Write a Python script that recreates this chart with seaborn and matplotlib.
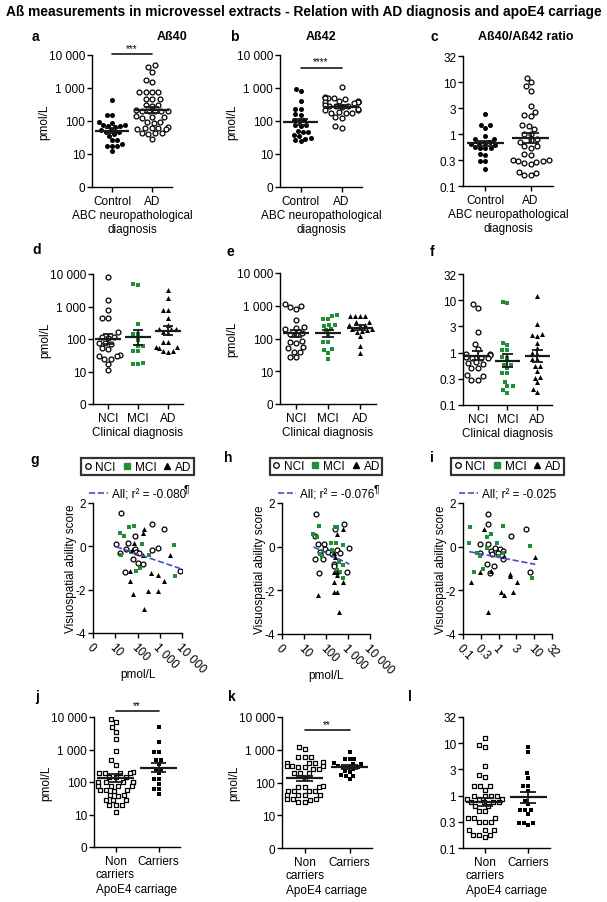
"""Abeta measurements in microvessel extracts - dot plots and correlations."""
import warnings
import numpy as np
import pandas as pd
import matplotlib
matplotlib.use('Agg')
import matplotlib.pyplot as plt
from matplotlib.lines import Line2D
from matplotlib.ticker import NullLocator
import seaborn as sns

warnings.filterwarnings('ignore')

# ---- data ----
abc_order = ['Control', 'AD']
clin_order = ['NCI', 'MCI', 'AD']
apoe_order = ['Non\ncarriers', 'Carriers']

a_ctrl = [427, 148, 148, 95, 90, 78, 75, 72, 70, 65, 55, 52, 48, 45, 40, 35, 27, 26, 20, 18, 17, 17, 12]
a_ad = [4900, 4400, 3100, 1800, 1500, 780, 780, 780, 780, 460, 450, 450, 300, 300, 290,
        200, 200, 200, 195, 210, 205, 135, 130, 140, 125, 93, 95, 90, 63, 60, 65, 62,
        56, 56, 42, 42, 41, 43, 29]

b_ctrl = [960, 800, 400, 230, 230, 160, 150, 105, 110, 100, 75, 72, 78, 50, 45, 38, 48, 35, 28, 30, 27, 25]
b_ad = [1100, 520, 500, 480, 500, 510, 380, 390, 370, 400, 380, 360, 280, 290, 270, 280,
        300, 220, 230, 210, 180, 175, 185, 170, 125, 130, 70, 63]

c_ctrl = [2.4, 1.5, 1.3, 1.5, 0.9, 0.8, 0.8, 0.68, 0.7, 0.66, 0.65, 0.62, 0.55, 0.53, 0.56,
          0.55, 0.42, 0.4, 0.3, 0.3, 0.21]
c_ad = [12, 10, 8.4, 6.8, 3.5, 2.7, 2.3, 2.2, 1.45, 1.5, 1.25, 1.0, 1.0, 0.75, 0.8, 0.7,
        0.58, 0.55, 0.6, 0.4, 0.42, 0.31, 0.3, 0.3, 0.29, 0.32, 0.26, 0.28, 0.18, 0.16, 0.165, 0.19]

d_nci = [7900, 1600, 780, 440, 440, 160, 112, 115, 110, 75, 72, 78, 50, 52, 32, 30, 31, 24, 25, 17, 11]
d_mci = [4900, 4500, 290, 140, 145, 90, 62, 60, 44, 42, 18, 17, 17]
d_ad = [3200, 1800, 800, 800, 440, 270, 200, 200, 205, 150, 160, 80, 82, 55, 56, 54, 42, 41, 43]

e_nci = [1150, 1000, 900, 800, 370, 220, 210, 190, 140, 135, 145, 80, 85, 75, 55, 52, 40, 38, 28, 27]
e_mci = [500, 510, 400, 390, 250, 240, 255, 190, 180, 130, 80, 78, 47, 46, 37, 23]
e_ad = [480, 470, 490, 475, 320, 310, 250, 255, 245, 190, 195, 185, 160, 165, 120, 59, 37]

f_nci = [8.5, 7.2, 2.5, 1.45, 1.15, 0.95, 0.93, 0.9, 0.8, 0.78, 0.82, 0.8, 0.65, 0.62, 0.6,
         0.5, 0.5, 0.37, 0.35, 0.3, 0.3]
f_mci = [9.3, 8.7, 1.55, 1.4, 1.1, 1.1, 0.8, 0.82, 0.58, 0.58, 0.5, 0.4, 0.4, 0.275, 0.23,
         0.23, 0.19, 0.17]
f_ad = [12, 3.5, 2.2, 2.3, 2.1, 1.5, 1.2, 0.95, 0.97, 0.75, 0.74, 0.55, 0.56, 0.45, 0.33,
        0.34, 0.27, 0.18, 0.2]

# visuospatial ability score vs Abeta40 / Abeta42 / ratio
g_nci_x = [19, 440, 1500, 77, 11, 38, 30, 17, 80, 85, 120, 440, 800, 65, 110, 180, 27, 7900]
g_nci_y = [1.54, 1.05, 0.82, 0.48, 0.12, 0.15, -0.14, -0.3, -0.1, -0.26, -0.3, -0.15, -0.08,
           -0.57, -0.75, -0.83, -1.18, -1.14]
g_mci_x = [17, 25, 42, 70, 19, 155, 330, 4200, 4700, 90, 130, 50]
g_mci_y = [0.63, 0.48, 0.9, 0.94, -0.42, 0.12, -0.38, 0.08, -1.38, -1.15, -1.0, -0.26]
g_ad_x = [205, 170, 70, 55, 180, 2950, 46, 410, 800, 46, 1600, 310, 800, 60, 200]
g_ad_y = [0.82, 0.6, 0.15, -0.18, -0.42, -0.42, -1.15, -1.22, -1.3, -1.6, -1.6, -2.06, -2.06, -2.2, -2.9]

h_nci_x = [36, 660, 260, 32, 42, 83, 32, 72, 55, 87, 126, 182, 330, 440, 1150, 240, 240, 46, 930]
h_nci_y = [1.51, 1.05, 0.82, 0.48, 0.12, 0.12, -0.57, -0.57, -0.26, -0.11, -0.26, -0.34, -0.15,
           -0.29, -0.08, -0.8, -0.88, -1.2, -1.14]
h_mci_x = [27, 38, 50, 260, 330, 166, 290, 575, 55, 69, 182, 220, 410, 575, 330, 440, 575]
h_mci_y = [0.6, 0.45, 0.94, 0.9, 0.9, 0.15, 0.15, 0.08, -0.34, -0.42, -0.15, -0.3, -0.72,
           -0.83, -1.06, -1.18, -1.42]
h_ad_x = [575, 330, 235, 260, 220, 310, 330, 240, 575, 220, 330, 42, 370]
h_ad_y = [0.82, 0.6, -0.29, -0.49, -1.15, -1.15, -1.3, -1.6, -1.6, -2.07, -2.07, -2.2, -3.0]

i_nci_x = [0.51, 0.51, 5.9, 2.3, 0.3, 0.51, 0.8, 1.1, 1.35, 0.6, 0.65, 0.3, 1.35, 0.75, 0.48, 0.57, 7.4, 0.95]
i_nci_y = [1.51, 1.02, 0.82, 0.48, 0.12, 0.12, -0.08, -0.1, -0.2, -0.2, -0.35, -0.3, -0.57,
           -0.87, -0.8, -1.2, -1.14, -0.3]
i_mci_x = [0.16, 1.3, 0.63, 0.46, 0.15, 0.25, 0.3, 0.48, 0.88, 1.0, 1.3, 7.7, 8.6, 0.2, 0.37]
i_mci_y = [0.9, 0.94, 0.57, 0.45, 0.15, -0.28, -0.45, -0.06, 0.15, -0.44, -0.3, 0.05, -1.45, -1.18, -1.0]
i_ad_x = [0.38, 1.4, 0.3, 0.63, 0.17, 2.1, 2.15, 3.2, 10.7, 1.2, 1.4, 2.5, 0.5]
i_ad_y = [0.82, -0.45, -1.15, -1.12, -1.6, -1.25, -1.33, -1.6, -0.48, -2.07, -2.2, -2.07, -3.0]

r2_labels = ['-0.080', '-0.076', '-0.025']

j_non = [8900, 6800, 4900, 3500, 2050, 880, 460, 340, 190, 185, 195, 200, 190, 140, 140, 145,
         100, 98, 100, 102, 100, 75, 76, 74, 75, 55, 56, 54, 55, 39, 38, 40, 27, 27, 28, 19, 19, 20, 12]
j_car = [4900, 1700, 830, 830, 470, 470, 360, 250, 250, 190, 125, 125, 89, 62, 62, 44]

k_non = [1200, 1050, 610, 600, 620, 400, 400, 390, 410, 300, 300, 310, 320, 320, 250, 250, 190,
         190, 195, 140, 75, 75, 74, 76, 55, 55, 54, 56, 42, 42, 41, 43, 31, 31, 30, 32, 25, 25]
k_car = [880, 540, 520, 540, 380, 370, 390, 300, 300, 310, 300, 265, 215, 220, 160, 160, 165, 125]

l_non = [12.3, 9.1, 8.3, 3.6, 2.5, 2.3, 1.5, 1.5, 1.5, 1.3, 1.0, 1.0, 1.0, 1.0, 0.86, 0.86, 0.86,
         0.74, 0.74, 0.74, 0.74, 0.62, 0.62, 0.5, 0.5, 0.38, 0.38, 0.38, 0.32, 0.32, 0.32, 0.22,
         0.22, 0.22, 0.18, 0.18, 0.18, 0.16]
l_car = [8.5, 6.7, 2.7, 2.2, 1.5, 1.5, 1.2, 0.8, 0.69, 0.53, 0.53, 0.53, 0.45, 0.3, 0.3, 0.3, 0.27]

pmol_ticks = [1, 10, 100, 1000, 10000]
pmol_labels = ['0', '10', '100', '1 000', '10 000']
ratio_ticks = [0.1, 10 ** -0.5, 1, 10 ** 0.5, 10, 10 ** 1.5]
ratio_labels = ['0.1', '0.3', '1', '3', '10', '32']

GREEN = '#1f8f3a'
BLUE = '#4b4bc6'
W, H = 607, 903
FS = 8.5

sns.set_theme(style='ticks')
plt.rcParams['font.family'] = ['Liberation Sans', 'DejaVu Sans']
plt.rcParams.update({
    'font.size': FS, 'axes.linewidth': 1.0, 'axes.unicode_minus': False,
    'xtick.labelsize': FS, 'ytick.labelsize': FS, 'axes.labelsize': FS,
    'xtick.major.size': 3.5, 'ytick.major.size': 3.5,
    'xtick.major.width': 1.0, 'ytick.major.width': 1.0,
    'xtick.major.pad': 2, 'ytick.major.pad': 1.5,
    'axes.edgecolor': 'black', 'text.color': 'black',
    'xtick.color': 'black', 'ytick.color': 'black', 'axes.labelcolor': 'black',
})

fig = plt.figure(figsize=(W / 100, H / 100), dpi=100)

STYLE = {
    'open_o': dict(marker='o', color='white', edgecolor='black', linewidth=0.9, size=3.5),
    'fill_o': dict(marker='o', color='black', linewidth=0, size=3.6),
    'green_s': dict(marker='s', color=GREEN, linewidth=0, size=3.5),
    'tri': dict(marker='^', color='black', linewidth=0, size=3.6),
    'open_s': dict(marker='s', color='white', edgecolor='black', linewidth=0.9, size=3.3),
    'fill_s': dict(marker='s', color='black', linewidth=0, size=3.4),
}


def add_ax(left, top, right, bottom):
    return fig.add_axes([left / W, 1 - bottom / H, (right - left) / W, (bottom - top) / H])


def dot_panel(ax, order, groups, styles, ticks, labels, xlabel, ylabel=None):
    for name, vals, st in zip(order, groups, styles):
        df = pd.DataFrame({'grp': name, 'val': vals})
        sns.swarmplot(data=df, x='grp', y='val', order=order, log_scale=True,
                      ax=ax, zorder=3, **STYLE[st])
    # geometric mean +/- SEM (on log values)
    for i, vals in enumerate(groups):
        lv = np.log10(vals)
        m = lv.mean()
        se = lv.std(ddof=1) / np.sqrt(len(lv))
        ax.hlines(10 ** m, i - 0.42, i + 0.42, color='k', lw=1.6, zorder=5)
        ax.vlines(i, 10 ** (m - se), 10 ** (m + se), color='k', lw=1.3, zorder=5)
        ax.hlines([10 ** (m - se), 10 ** (m + se)], i - 0.18, i + 0.18, color='k', lw=1.3, zorder=5)
    ax.set_xlim(-0.5, len(order) - 0.5)
    ax.set_ylim(ticks[0], ticks[-1])
    ax.set_yticks(ticks)
    ax.set_yticklabels(labels)
    ax.yaxis.set_minor_locator(NullLocator())
    ax.set_xlabel(xlabel, labelpad=2)
    ax.set_ylabel(ylabel if ylabel else '', labelpad=-1)
    sns.despine(ax=ax)


def sig_bar(ax, y, text):
    ax.plot([0, 1], [y, y], color='k', lw=1.2, clip_on=False)
    ax.text(0.5, y * 1.12, text, ha='center', va='bottom', fontsize=7)


def scatter_panel(ax, xs, ys, xticks, xlabels, r2, xlabel=None):
    kws = [STYLE['open_o'], STYLE['green_s'], STYLE['tri']]
    for x, y, kw in zip(xs, ys, kws):
        kw = dict(kw)
        size = kw.pop('size')
        sns.scatterplot(x=x, y=y, ax=ax, s=size ** 2, zorder=3, **kw)
    ax.set_xscale('log')
    sns.regplot(x=np.concatenate(xs), y=np.concatenate(ys), logx=True, scatter=False,
                ci=None, truncate=True, ax=ax,
                line_kws=dict(color=BLUE, ls='--', lw=1.2, zorder=4))
    ax.set_xlim(xticks[0], xticks[-1])
    ax.set_ylim(-4, 2)
    ax.set_yticks([-4, -2, 0, 2])
    ax.set_xticks(xticks)
    ax.set_xticklabels(xlabels, rotation=-45, ha='left', rotation_mode='anchor')
    ax.xaxis.set_minor_locator(NullLocator())
    ax.set_xlabel(xlabel if xlabel else '', labelpad=-5)
    ax.set_ylabel('Visuospatial ability score', labelpad=-1)
    sns.despine(ax=ax)
    handles = [
        Line2D([], [], ls='none', marker='o', mfc='white', mec='black', ms=4, mew=0.9),
        Line2D([], [], ls='none', marker='s', mfc=GREEN, mec=GREEN, ms=4),
        Line2D([], [], ls='none', marker='^', mfc='black', mec='black', ms=4),
    ]
    leg = ax.legend(handles, clin_order, ncol=3, loc='lower center', bbox_to_anchor=(0.5, 1.215),
                    frameon=True, fancybox=False, edgecolor='black', handlelength=0.7,
                    handletextpad=0.3, columnspacing=0.6, borderpad=0.2, borderaxespad=0,
                    fontsize=FS)
    leg.get_frame().set_linewidth(1.6)
    ax.add_artist(leg)
    ax.legend([Line2D([], [], color=BLUE, ls='--', lw=1.2)], ['All; r\u00b2 = ' + r2],
              loc='lower center', bbox_to_anchor=(0.5, 1.02), frameon=False,
              handlelength=1.6, handletextpad=0.3, borderpad=0, borderaxespad=0, fontsize=FS)


# ---- row 1: ABC neuropathological diagnosis ----
abc_lab = 'ABC neuropathological\ndiagnosis'
ax_a = add_ax(92, 56, 172, 188)
dot_panel(ax_a, abc_order, [a_ctrl, a_ad], ['fill_o', 'open_o'], pmol_ticks, pmol_labels, abc_lab, 'pmol/L')
sig_bar(ax_a, 10500, '***')
ax_b = add_ax(280, 56, 362, 188)
dot_panel(ax_b, abc_order, [b_ctrl, b_ad], ['fill_o', 'open_o'], pmol_ticks, pmol_labels, abc_lab, 'pmol/L')
sig_bar(ax_b, 4100, '****')
ax_c = add_ax(463, 57, 553, 187)
dot_panel(ax_c, abc_order, [c_ctrl, c_ad], ['fill_o', 'open_o'], ratio_ticks, ratio_labels, abc_lab)

# ---- row 2: clinical diagnosis ----
clin_styles = ['open_o', 'green_s', 'tri']
ax_d = add_ax(93, 275, 183, 405)
dot_panel(ax_d, clin_order, [d_nci, d_mci, d_ad], clin_styles, pmol_ticks, pmol_labels, 'Clinical diagnosis', 'pmol/L')
ax_e = add_ax(280, 274, 376, 405)
dot_panel(ax_e, clin_order, [e_nci, e_mci, e_ad], clin_styles, pmol_ticks, pmol_labels, 'Clinical diagnosis', 'pmol/L')
ax_f = add_ax(463, 275, 552, 406)
dot_panel(ax_f, clin_order, [f_nci, f_mci, f_ad], clin_styles, ratio_ticks, ratio_labels, 'Clinical diagnosis')

# ---- row 3: visuospatial ability score ----
ax_g = add_ax(93, 504, 182, 634)
scatter_panel(ax_g, [g_nci_x, g_mci_x, g_ad_x], [g_nci_y, g_mci_y, g_ad_y], pmol_ticks, pmol_labels, r2_labels[0], 'pmol/L')
ax_h = add_ax(282, 504, 370, 635)
scatter_panel(ax_h, [h_nci_x, h_mci_x, h_ad_x], [h_nci_y, h_mci_y, h_ad_y], pmol_ticks, pmol_labels, r2_labels[1], 'pmol/L')
ax_i = add_ax(463, 504, 552, 635)
scatter_panel(ax_i, [i_nci_x, i_mci_x, i_ad_x], [i_nci_y, i_mci_y, i_ad_y], ratio_ticks, ratio_labels, r2_labels[2])
fig.text(184 / W, 1 - 490 / H, '\u00b6', fontsize=7.5, ha='left', va='center')
fig.text(374 / W, 1 - 490 / H, '\u00b6', fontsize=7.5, ha='left', va='center')

# ---- row 4: apoE4 carriage ----
ax_j = add_ax(94, 718, 180, 848)
dot_panel(ax_j, apoe_order, [j_non, j_car], ['open_s', 'fill_s'], pmol_ticks, pmol_labels, 'ApoE4 carriage', 'pmol/L')
sig_bar(ax_j, 15000, '**')
ax_k = add_ax(282, 718, 372, 849)
dot_panel(ax_k, apoe_order, [k_non, k_car], ['open_s', 'fill_s'], pmol_ticks, pmol_labels, 'ApoE4 carriage', 'pmol/L')
sig_bar(ax_k, 3900, '**')
ax_l = add_ax(463, 718, 550, 849)
dot_panel(ax_l, apoe_order, [l_non, l_car], ['open_s', 'fill_s'], ratio_ticks, ratio_labels, 'ApoE4 carriage')

# ---- titles and panel letters ----
fig.text(W / 2 / W, 1 - 12 / H,
         'A\u00df measurements in microvessel extracts - Relation with AD diagnosis and apoE4 carriage',
         ha='center', va='center', fontsize=9.9, fontweight='bold')
for x, t in [(172, 'A\u00df40'), (321, 'A\u00df42'), (526, 'A\u00df40/A\u00df42 ratio')]:
    fig.text(x / W, 1 - 37 / H, t, ha='center', va='center', fontsize=9, fontweight='bold')
letters = [('a', 35, 37), ('b', 234, 37), ('c', 434, 37),
           ('d', 37, 250), ('e', 230, 252), ('f', 432, 252),
           ('g', 35, 460), ('h', 228, 458), ('i', 432, 458),
           ('j', 37, 697), ('k', 232, 697), ('l', 410, 697)]
for t, x, y in letters:
    fig.text(x / W, 1 - y / H, t, ha='center', va='center', fontsize=10, fontweight='bold')

fig.savefig('out.png', dpi=100)
